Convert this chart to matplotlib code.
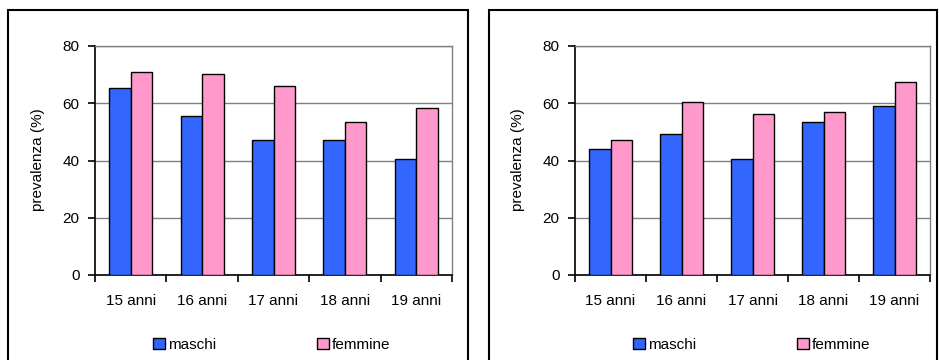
import matplotlib
matplotlib.use("Agg")
import matplotlib.pyplot as plt
from matplotlib.patches import Rectangle
import numpy as np

categories = ["15 anni", "16 anni", "17 anni", "18 anni", "19 anni"]
series_names = ["maschi", "femmine"]
left_maschi = [65.2, 55.4, 47.0, 47.0, 40.6]
left_femmine = [70.9, 70.1, 65.9, 53.3, 58.3]
right_maschi = [44.1, 49.1, 40.6, 53.3, 58.9]
right_femmine = [47.0, 60.3, 56.2, 56.8, 67.4]
yticks = [0, 20, 40, 60, 80]
ylabel = "prevalenza (%)"

col_m = "#3366FF"
col_f = "#FF99CC"

plt.rcParams['font.family'] = ['Liberation Sans', 'DejaVu Sans']
FS = 11

fig = plt.figure(figsize=(9.39, 3.6), dpi=100)
W, H = 939, 360

def fx(px):
    return px / W

def fy(py):
    return 1 - py / H

# panel frames
for (x0, x1) in [(8, 468), (489, 937)]:
    fig.patches.append(Rectangle((fx(x0), fy(400)), fx(x1 - x0), fy(10) - fy(400),
                                 transform=fig.transFigure, fill=False,
                                 edgecolor="black", linewidth=1.5))

def panel(ax_px, m, f, ylab_x, leg_x):
    x0, x1 = ax_px
    ax = fig.add_axes([fx(x0), fy(275), fx(x1 - x0), fy(46) - fy(275)])
    x = np.arange(len(categories))
    w = 0.3
    ax.bar(x - w / 2, m, w, color=col_m, edgecolor="black", linewidth=1.0,
           label=series_names[0], zorder=3)
    ax.bar(x + w / 2, f, w, color=col_f, edgecolor="black", linewidth=1.0,
           label=series_names[1], zorder=3)
    ax.set_xlim(-0.5, len(categories) - 0.5)
    ax.set_ylim(0, 80)
    ax.set_yticks(yticks)
    ax.set_yticklabels([str(t) for t in yticks], fontsize=FS)
    ax.yaxis.grid(True, color="#808080", linewidth=1.0, zorder=0)
    ax.set_xticks(x)
    ax.set_xticklabels(categories, fontsize=FS)
    ax.tick_params(axis='x', length=0, pad=14)
    ax.set_xticks(np.arange(-0.5, len(categories)), minor=True)
    ax.tick_params(axis='x', which='minor', length=5, width=1.2, direction='out')
    ax.tick_params(axis='y', length=5, width=1.2, direction='out', pad=6)
    for s in ["top", "right"]:
        ax.spines[s].set_color("#808080")
        ax.spines[s].set_linewidth(1.0)
    for s in ["left", "bottom"]:
        ax.spines[s].set_color("black")
        ax.spines[s].set_linewidth(1.2)
    fig.text(fx(ylab_x), fy(160), ylabel, rotation=90, ha="center", va="center",
             fontsize=FS)
    handles, labels = ax.get_legend_handles_labels()
    fig.legend(handles, labels, loc="center", bbox_to_anchor=(fx(leg_x), fy(345)),
               ncol=2, frameon=False, fontsize=FS, handlelength=0.78,
               handleheight=0.78, handletextpad=0.2, columnspacing=6.6,
               borderaxespad=0)
    return ax

panel((95, 452), left_maschi, left_femmine, 38, 272)
panel((575, 930), right_maschi, right_femmine, 518, 752)

fig.savefig("out.png", dpi=100, facecolor="white")
